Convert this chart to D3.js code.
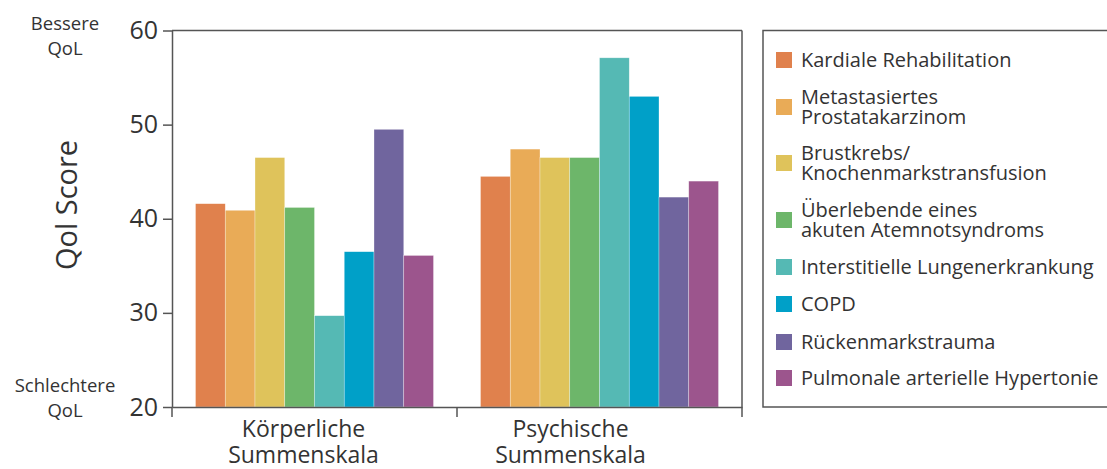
<!DOCTYPE html>
<html>
<head>
<meta charset="utf-8">
<script src="https://cdn.jsdelivr.net/npm/d3@7"></script>
<style>
  html, body { margin: 0; padding: 0; background: #fff; }
  svg { display: block; font-family: "Open Sans", sans-serif; }
</style>
</head>
<body>
<svg id="chart" width="1107" height="469"></svg>
<script>
const groups = ["Körperliche Summenskala", "Psychische Summenskala"];
const groupLines = [["Körperliche", "Summenskala"], ["Psychische", "Summenskala"]];
const seriesNames = [
  "Kardiale Rehabilitation",
  "Metastasiertes Prostatakarzinom",
  "Brustkrebs/ Knochenmarkstransfusion",
  "Überlebende eines akuten Atemnotsyndroms",
  "Interstitielle Lungenerkrankung",
  "COPD",
  "Rückenmarkstrauma",
  "Pulmonale arterielle Hypertonie"
];
const legendLines = [
  ["Kardiale Rehabilitation"],
  ["Metastasiertes", "Prostatakarzinom"],
  ["Brustkrebs/", "Knochenmarkstransfusion"],
  ["Überlebende eines", "akuten Atemnotsyndroms"],
  ["Interstitielle Lungenerkrankung"],
  ["COPD"],
  ["Rückenmarkstrauma"],
  ["Pulmonale arterielle Hypertonie"]
];
const koerperlich = [41.6, 40.9, 46.5, 41.2, 29.7, 36.5, 49.5, 36.1];
const psychisch   = [44.5, 47.4, 46.5, 46.5, 57.1, 53.0, 42.3, 44.0];
const colors = ["#E0814D", "#E9AB57", "#DFC35B", "#6DB66A", "#55B9B4", "#00A0C8", "#70659E", "#9C558D"];
const yTicks = [20, 30, 40, 50, 60];

(function () {
const values = [koerperlich, psychisch];
const svg = d3.select("#chart");
const textColor = "#333";
const axisColor = "#555";

const pLeft = 172, pRight = 742, pTop = 30.5, pBottom = 407;

const x0 = d3.scaleBand().domain(groups).range([pLeft, pRight]).paddingInner(0).paddingOuter(0);
const x1 = d3.scaleBand().domain(seriesNames).range([23.5, x0.bandwidth() - 23.5]).padding(0);
const y = d3.scaleLinear().domain([20, 60]).range([pBottom, pTop]);

// bars
const g = svg.append("g");
groups.forEach((grp, gi) => {
  g.selectAll(null)
    .data(values[gi].map((v, i) => ({ v, i, name: seriesNames[i] })))
    .enter().append("rect")
    .attr("x", d => x0(grp) + x1(d.name))
    .attr("y", d => y(d.v))
    .attr("width", x1.bandwidth())
    .attr("height", d => y(20) - y(d.v))
    .attr("fill", d => colors[d.i])
    .attr("stroke", "rgba(255,255,255,0.5)")
    .attr("stroke-width", 0.6);
});

// frame top and right
svg.append("line").attr("x1", pLeft).attr("x2", pRight).attr("y1", pTop).attr("y2", pTop)
  .attr("stroke", axisColor).attr("stroke-width", 1.5);
svg.append("line").attr("x1", pRight).attr("x2", pRight).attr("y1", pTop).attr("y2", pBottom + 10)
  .attr("stroke", axisColor).attr("stroke-width", 1.5);

// y axis
const yAxis = svg.append("g").attr("transform", `translate(${pLeft},0)`)
  .call(d3.axisLeft(y).tickValues(yTicks).tickSize(9).tickPadding(5).tickSizeOuter(0));
yAxis.select(".domain").attr("stroke", axisColor).attr("stroke-width", 1.5);
yAxis.selectAll(".tick line").attr("stroke", axisColor).attr("stroke-width", 1.5);
yAxis.selectAll(".tick text").attr("fill", textColor).attr("font-size", 25)
  .attr("font-family", "'Open Sans', sans-serif");
svg.append("line").attr("x1", pLeft).attr("x2", pLeft).attr("y1", pBottom).attr("y2", pBottom + 10)
  .attr("stroke", axisColor).attr("stroke-width", 1.5);

// x axis
const xAxis = svg.append("g").attr("transform", `translate(0,${pBottom})`)
  .call(d3.axisBottom(x0).tickSize(0).tickFormat(""));
xAxis.select(".domain").attr("stroke", axisColor).attr("stroke-width", 1.5);
svg.append("line").attr("x1", x0(groups[1])).attr("x2", x0(groups[1]))
  .attr("y1", pBottom).attr("y2", pBottom + 10)
  .attr("stroke", axisColor).attr("stroke-width", 1.5);

// group labels
const labelOffsets = [-11, -29];
groups.forEach((grp, gi) => {
  const cx = x0(grp) + x0.bandwidth() / 2 + labelOffsets[gi];
  const t = svg.append("text").attr("text-anchor", "middle").attr("fill", textColor)
    .attr("font-size", 23);
  groupLines[gi].forEach((ln, li) => {
    t.append("tspan").attr("x", cx).attr("y", 437 + li * 26).text(ln);
  });
});

// y title
svg.append("text").attr("transform", "translate(77,205) rotate(-90)")
  .attr("text-anchor", "middle").attr("fill", textColor).attr("font-size", 29)
  .text("Qol Score");

// Bessere / Schlechtere
const side = [["Bessere", "QoL", 30], ["Schlechtere", "QoL", 392]];
side.forEach(s => {
  const t = svg.append("text").attr("text-anchor", "middle").attr("fill", textColor).attr("font-size", 18.5);
  t.append("tspan").attr("x", 65).attr("y", s[2]).text(s[0]);
  t.append("tspan").attr("x", 65).attr("y", s[2] + 25).text(s[1]);
});

// legend
svg.append("rect").attr("x", 763).attr("y", 30.5).attr("width", 360).attr("height", 376.5)
  .attr("fill", "none").attr("stroke", axisColor).attr("stroke-width", 1.5);
const legendY = [60, 107, 163, 220, 267, 304, 342, 378];
const lg = svg.append("g");
legendLines.forEach((lines, i) => {
  const cy = legendY[i];
  lg.append("rect").attr("x", 776).attr("y", cy - 8).attr("width", 16).attr("height", 16)
    .attr("fill", colors[i]);
  const t = lg.append("text").attr("fill", textColor).attr("font-size", 20);
  const n = lines.length;
  lines.forEach((ln, li) => {
    t.append("tspan").attr("x", 801)
      .attr("y", cy + 7 + (li - (n - 1) / 2) * 20)
      .text(ln);
  });
});
})();
</script>
</body>
</html>
